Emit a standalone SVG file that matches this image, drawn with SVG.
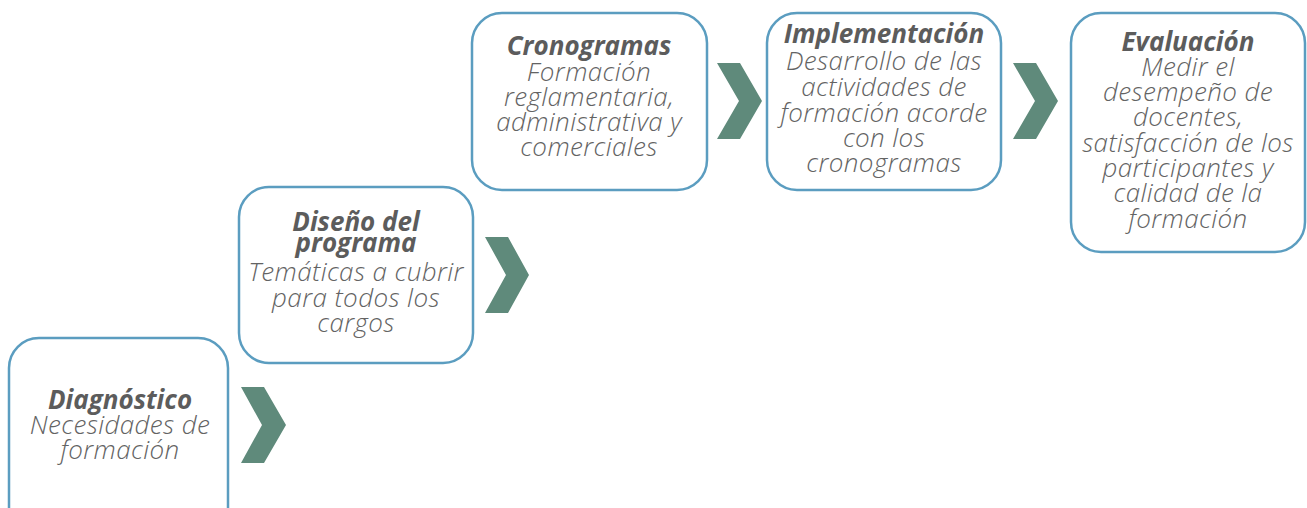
<svg xmlns="http://www.w3.org/2000/svg" width="1307" height="508" viewBox="0 0 1307 508">
<style>
.box{fill:#fff;stroke:#5b9dc0;stroke-width:2.5}
.chev{fill:#5f8a7b}
text{font-family:"Open Sans","Liberation Sans",sans-serif;font-style:italic;fill:#636363;text-anchor:middle;font-size:26px}
.t{font-weight:700;fill:#5c5c5c}
.b{font-weight:300;letter-spacing:0.4px}
</style>
<rect width="1307" height="508" fill="#fff"/>
<g id="connectors">
<polygon class="chev" points="241,387 264,387 286,425 264,463 241,463 262,425"/>
<polygon class="chev" points="485,237 508,237 529,275 508,313 485,313 506,275"/>
<polygon class="chev" points="717,63 740,63 762,101 740,139 717,139 739,101"/>
<polygon class="chev" points="1013,63 1036,63 1058,101 1036,139 1013,139 1035,101"/>
</g>
<g id="diagnostico">
<rect class="box" x="9" y="338" width="219" height="200" rx="30"/>
<text class="t" x="120" y="409">Diagnóstico</text>
<text class="b" x="120" y="434">Necesidades de</text>
<text class="b" x="120" y="459">formación</text>
</g>
<g id="diseno">
<rect class="box" x="239" y="187" width="234" height="176" rx="30"/>
<text class="t" x="356" y="231">Diseño del</text>
<text class="t" x="356" y="252">programa</text>
<text class="b" x="356" y="281">Temáticas a cubrir</text>
<text class="b" x="356" y="307">para todos los</text>
<text class="b" x="356" y="332">cargos</text>
</g>
<g id="cronogramas">
<rect class="box" x="472" y="13" width="235" height="177" rx="30"/>
<text class="t" x="589" y="55">Cronogramas</text>
<text class="b" x="589" y="81">Formación</text>
<text class="b" x="589" y="106">reglamentaria,</text>
<text class="b" x="589" y="131">administrativa y</text>
<text class="b" x="589" y="156">comerciales</text>
</g>
<g id="implementacion">
<rect class="box" x="767" y="13" width="234" height="177" rx="30"/>
<text class="t" x="884" y="43">Implementación</text>
<text class="b" x="884" y="70">Desarrollo de las</text>
<text class="b" x="884" y="96">actividades de</text>
<text class="b" x="884" y="122">formación acorde</text>
<text class="b" x="884" y="147">con los</text>
<text class="b" x="884" y="172">cronogramas</text>
</g>
<g id="evaluacion">
<rect class="box" x="1071" y="13" width="234" height="239" rx="30"/>
<text class="t" x="1188" y="51">Evaluación</text>
<text class="b" x="1188" y="76">Medir el</text>
<text class="b" x="1188" y="101">desempeño de</text>
<text class="b" x="1188" y="126">docentes,</text>
<text class="b" x="1188" y="152">satisfacción de los</text>
<text class="b" x="1188" y="177">participantes y</text>
<text class="b" x="1188" y="202">calidad de la</text>
<text class="b" x="1188" y="228">formación</text>
</g>
</svg>
